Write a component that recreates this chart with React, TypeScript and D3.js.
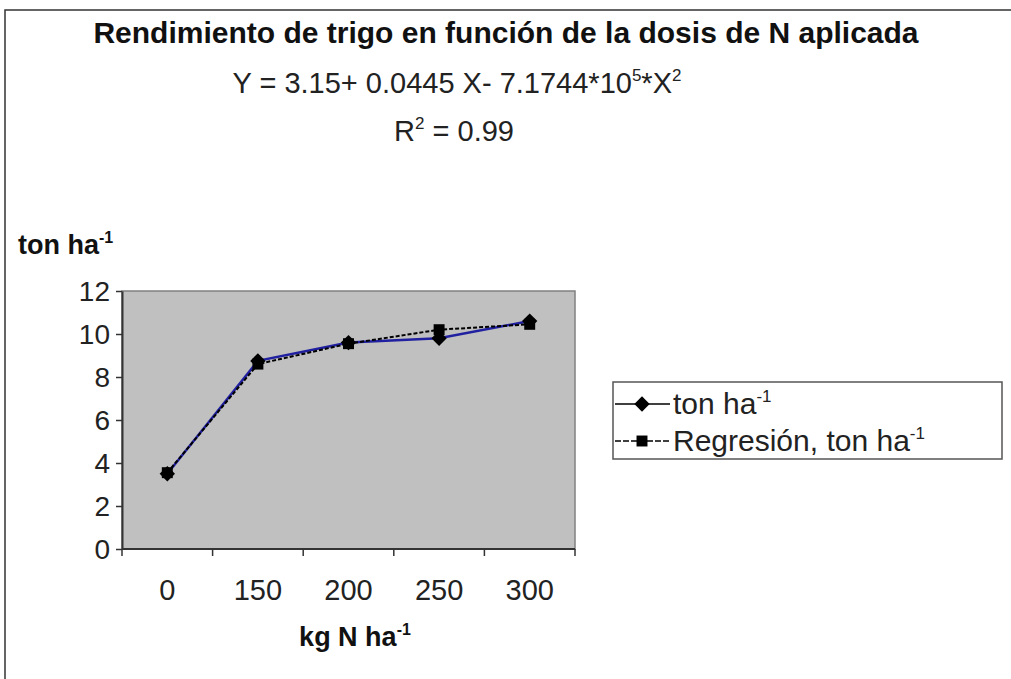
import React, { useEffect, useRef } from "react"
import * as d3 from "d3"

const doses = ["0", "150", "200", "250", "300"]
const yieldObs = [3.5, 8.75, 9.6, 9.8, 10.6]
const yieldReg = [3.55, 8.6, 9.55, 10.2, 10.45]
const yTicks = [0, 2, 4, 6, 8, 10, 12]

const FONT = "'Liberation Sans', Arial, sans-serif"

export default function App() {
  const ref = useRef<SVGSVGElement>(null)

  useEffect(() => {
    const svg = d3.select(ref.current)
    svg.selectAll("*").remove()

    const plot = { left: 122, right: 575, top: 291, bottom: 549 }

    // outer frame
    svg.append("rect")
      .attr("x", 5).attr("y", 10).attr("width", 1020).attr("height", 690)
      .attr("fill", "white").attr("stroke", "#333").attr("stroke-width", 1.5)

    const x = d3.scaleBand().domain(doses).range([plot.left, plot.right]).paddingInner(0).paddingOuter(0)
    const y = d3.scaleLinear().domain([0, 12]).range([plot.bottom, plot.top])

    svg.append("rect")
      .attr("x", plot.left).attr("y", plot.top)
      .attr("width", plot.right - plot.left).attr("height", plot.bottom - plot.top)
      .attr("fill", "#c0c0c0").attr("stroke", "#808080").attr("stroke-width", 1.5)

    // y axis
    const yAxis = svg.append("g").attr("transform", `translate(${plot.left},0)`)
      .call(d3.axisLeft(y).tickValues(yTicks).tickSize(6).tickPadding(6).tickSizeOuter(0))
    yAxis.select(".domain").attr("stroke", "#333").attr("stroke-width", 2)
    yAxis.selectAll(".tick line").attr("stroke", "#333").attr("stroke-width", 1.5)
    yAxis.selectAll(".tick text").attr("font-family", FONT).attr("font-size", 28).attr("fill", "#222").attr("dy", "0.35em")

    // x axis: ticks at category boundaries
    const xg = svg.append("g").attr("transform", `translate(0,${plot.bottom})`)
    xg.append("line").attr("x1", plot.left).attr("x2", plot.right).attr("stroke", "#333").attr("stroke-width", 2)
    const bounds = doses.map(d => x(d) as number).concat([plot.right])
    xg.selectAll("line.tk").data(bounds).join("line").attr("class", "tk")
      .attr("x1", d => d).attr("x2", d => d).attr("y1", 0).attr("y2", 7)
      .attr("stroke", "#333").attr("stroke-width", 1.5)
    xg.selectAll("text").data(doses).join("text")
      .attr("x", d => (x(d) as number) + x.bandwidth() / 2).attr("y", 51)
      .attr("text-anchor", "middle").attr("font-family", FONT).attr("font-size", 29).attr("fill", "#222")
      .text(d => d)

    const cx = (i: number) => (x(doses[i]) as number) + x.bandwidth() / 2
    const line = d3.line<number>().x((d, i) => cx(i)).y(d => y(d))

    svg.append("path").datum(yieldObs).attr("d", line)
      .attr("fill", "none").attr("stroke", "#2020a0").attr("stroke-width", 2.5)
    svg.append("path").datum(yieldReg).attr("d", line)
      .attr("fill", "none").attr("stroke", "#000").attr("stroke-width", 2).attr("stroke-dasharray", "4 2")

    const diamond = d3.symbol().type(d3.symbolDiamond2).size(150)
    const square = d3.symbol().type(d3.symbolSquare).size(120)

    svg.selectAll("path.obs").data(yieldObs).join("path").attr("class", "obs")
      .attr("d", diamond).attr("transform", (d, i) => `translate(${cx(i)},${y(d)})`).attr("fill", "#000")
    svg.selectAll("path.reg").data(yieldReg).join("path").attr("class", "reg")
      .attr("d", square).attr("transform", (d, i) => `translate(${cx(i)},${y(d)})`).attr("fill", "#000")

    // titles
    svg.append("text").attr("x", 506).attr("y", 43).attr("text-anchor", "middle")
      .attr("font-family", FONT).attr("font-size", 30).attr("font-weight", "bold").attr("fill", "#111")
      .text("Rendimiento de trigo en función de la dosis de N aplicada")

    const eq = svg.append("text").attr("x", 457).attr("y", 93).attr("text-anchor", "middle")
      .attr("font-family", FONT).attr("font-size", 29).attr("fill", "#222")
    eq.append("tspan").text("Y = 3.15+ 0.0445 X- 7.1744*10")
    eq.append("tspan").attr("font-size", 17).attr("dy", -12).text("5")
    eq.append("tspan").attr("dy", 12).text("*X")
    eq.append("tspan").attr("font-size", 17).attr("dy", -12).text("2")

    const r2 = svg.append("text").attr("x", 454).attr("y", 141).attr("text-anchor", "middle")
      .attr("font-family", FONT).attr("font-size", 29).attr("fill", "#222")
    r2.append("tspan").text("R")
    r2.append("tspan").attr("font-size", 17).attr("dy", -12).text("2")
    r2.append("tspan").attr("dy", 12).text(" = 0.99")

    const yl = svg.append("text").attr("x", 18).attr("y", 254)
      .attr("font-family", FONT).attr("font-size", 27).attr("font-weight", "bold").attr("fill", "#111")
    yl.append("tspan").text("ton ha")
    yl.append("tspan").attr("font-size", 16).attr("dy", -11).text("-1")

    const xl = svg.append("text").attr("x", 355).attr("y", 646).attr("text-anchor", "middle")
      .attr("font-family", FONT).attr("font-size", 27).attr("font-weight", "bold").attr("fill", "#111")
    xl.append("tspan").text("kg N ha")
    xl.append("tspan").attr("font-size", 16).attr("dy", -11).text("-1")

    // legend
    const lg = svg.append("g")
    lg.append("rect").attr("x", 613).attr("y", 382).attr("width", 389).attr("height", 77)
      .attr("fill", "white").attr("stroke", "#555").attr("stroke-width", 1.5)
    const items = [
      { label: "ton ha", sym: diamond, dash: null },
      { label: "Regresión, ton ha", sym: square, dash: "6 2" },
    ]
    items.forEach((it, i) => {
      const yy = 404 + i * 37
      lg.append("line").attr("x1", 615).attr("x2", 670).attr("y1", yy).attr("y2", yy)
        .attr("stroke", "#000").attr("stroke-width", 1.5).attr("stroke-dasharray", it.dash)
      lg.append("path").attr("d", it.sym).attr("transform", `translate(642,${yy})`).attr("fill", "#000")
      const t = lg.append("text").attr("x", 673).attr("y", yy + 10)
        .attr("font-family", FONT).attr("font-size", 30).attr("fill", "#222")
      t.append("tspan").text(it.label)
      t.append("tspan").attr("font-size", 17).attr("dy", -12).text("-1")
    })
  }, [])

  return (
    <svg ref={ref} width={1011} height={679} style={{ position: "absolute", left: 0, top: 0, display: "block" }} />
  )
}
